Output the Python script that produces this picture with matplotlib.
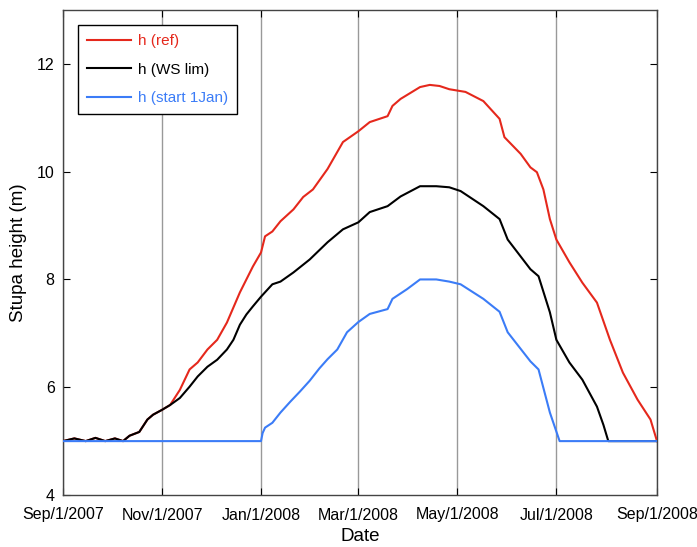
import matplotlib
matplotlib.use("Agg")
import matplotlib.pyplot as plt
import numpy as np
from datetime import datetime, timedelta

start = datetime(2007, 9, 1)

# days since Sep/1/2007 and stupa heights (m)
ref_days = [0, 7, 14, 20, 26, 32, 37, 41, 47, 52, 55.5, 61, 66, 72, 78, 83, 89, 95, 101, 109, 117,
            122, 124.5, 129, 134, 142, 148, 154, 163, 172.5, 182, 189, 200, 203, 208, 214, 220, 226,
            232, 238, 248, 259, 269, 272, 282, 288, 292, 296, 300, 304, 312, 320, 329, 337, 345, 354,
            362, 366]
ref_h = [5.0, 5.05, 5.0, 5.06, 5.0, 5.05, 5.0, 5.1, 5.17, 5.4, 5.49, 5.58, 5.67, 5.95, 6.33, 6.46,
         6.7, 6.88, 7.2, 7.76, 8.24, 8.5, 8.8, 8.89, 9.08, 9.3, 9.53, 9.67, 10.05, 10.55, 10.75, 10.92,
         11.03, 11.22, 11.35, 11.46, 11.57, 11.61, 11.59, 11.53, 11.48, 11.31, 10.98, 10.64, 10.33,
         10.08, 9.99, 9.67, 9.12, 8.74, 8.32, 7.94, 7.57, 6.88, 6.27, 5.77, 5.4, 5.0]

ws_days = [0, 7, 14, 20, 26, 32, 37, 41, 47, 52, 55.5, 61, 66, 72, 78, 83, 89, 95, 101, 105, 109,
           113, 117, 122, 129, 134, 142, 152, 163, 172.5, 182, 189, 200, 208, 220, 230, 238, 245,
           259, 269, 274, 288, 293, 300, 304, 312, 320, 329, 333, 336, 366]
ws_h = [5.0, 5.05, 5.0, 5.06, 5.0, 5.05, 5.0, 5.1, 5.17, 5.4, 5.49, 5.58, 5.67, 5.8, 6.01, 6.2,
        6.38, 6.51, 6.7, 6.88, 7.16, 7.35, 7.5, 7.68, 7.91, 7.96, 8.13, 8.37, 8.69, 8.93, 9.06, 9.25,
        9.36, 9.54, 9.73, 9.73, 9.71, 9.64, 9.36, 9.12, 8.74, 8.19, 8.06, 7.39, 6.88, 6.46, 6.14,
        5.64, 5.3, 5.0, 5.0]

jan_days = [0, 122, 123, 124.5, 129, 134, 140, 146, 152, 158, 163, 169, 175, 182, 189, 200, 203,
            212, 220, 230, 238, 245, 259, 269, 274, 288, 293, 300, 306, 366]
jan_h = [5.0, 5.0, 5.15, 5.25, 5.34, 5.53, 5.73, 5.92, 6.12, 6.35, 6.52, 6.7, 7.02, 7.21, 7.36,
         7.45, 7.64, 7.82, 8.0, 8.0, 7.96, 7.91, 7.64, 7.4, 7.02, 6.48, 6.33, 5.53, 5.0, 5.0]

tick_labels = ["Sep/1/2007", "Nov/1/2007", "Jan/1/2008", "Mar/1/2008",
               "May/1/2008", "Jul/1/2008", "Sep/1/2008"]
tick_dates = [datetime(2007, 9, 1), datetime(2007, 11, 1), datetime(2008, 1, 1),
              datetime(2008, 3, 1), datetime(2008, 5, 1), datetime(2008, 7, 1),
              datetime(2008, 9, 1)]

plt.rcParams['font.family'] = ['Liberation Sans', 'DejaVu Sans']

def to_dates(days):
    return [start + timedelta(days=d) for d in days]

fig = plt.figure(figsize=(6.97, 5.47), dpi=100)
ax = fig.add_axes([63/697, 52/547, 594/697, 485/547])

red = '#e5281c'
blue = '#3b7cf7'
ax.plot(to_dates(ref_days), ref_h, color=red, lw=1.5, label='h (ref)', zorder=3)
ax.plot(to_dates(ws_days), ws_h, color='black', lw=1.5, label='h (WS lim)', zorder=4)
ax.plot(to_dates(jan_days), jan_h, color=blue, lw=1.5, label='h (start 1Jan)', zorder=5)

ax.set_xlim(tick_dates[0], tick_dates[-1])
ax.set_ylim(4, 13)
ax.set_xticks(tick_dates)
ax.set_xticklabels(tick_labels)
ax.set_yticks([4, 6, 8, 10, 12])
ax.xaxis.grid(True, color='#999999', lw=1.0)
ax.set_axisbelow(True)
ax.tick_params(direction='in', top=True, right=True, labelsize=11.5, length=5)
ax.tick_params(axis='x', pad=9)
ax.tick_params(axis='y', pad=6)
for s in ax.spines.values():
    s.set_color('#444444')
    s.set_linewidth(1.0)

ax.set_xlabel('Date', fontsize=13.5, labelpad=4)
ax.set_ylabel('Stupa height (m)', fontsize=13.5, labelpad=7)

leg = ax.legend(loc='upper left', bbox_to_anchor=(0.025, 0.969), fontsize=11,
                frameon=True, fancybox=False, edgecolor='black', framealpha=1,
                handlelength=2.9, handletextpad=0.45, borderaxespad=0,
                labelspacing=0.95, borderpad=0.6)
leg.get_frame().set_linewidth(1.0)
for txt, c in zip(leg.get_texts(), [red, 'black', blue]):
    txt.set_color(c)

fig.savefig('out.png', dpi=100)
